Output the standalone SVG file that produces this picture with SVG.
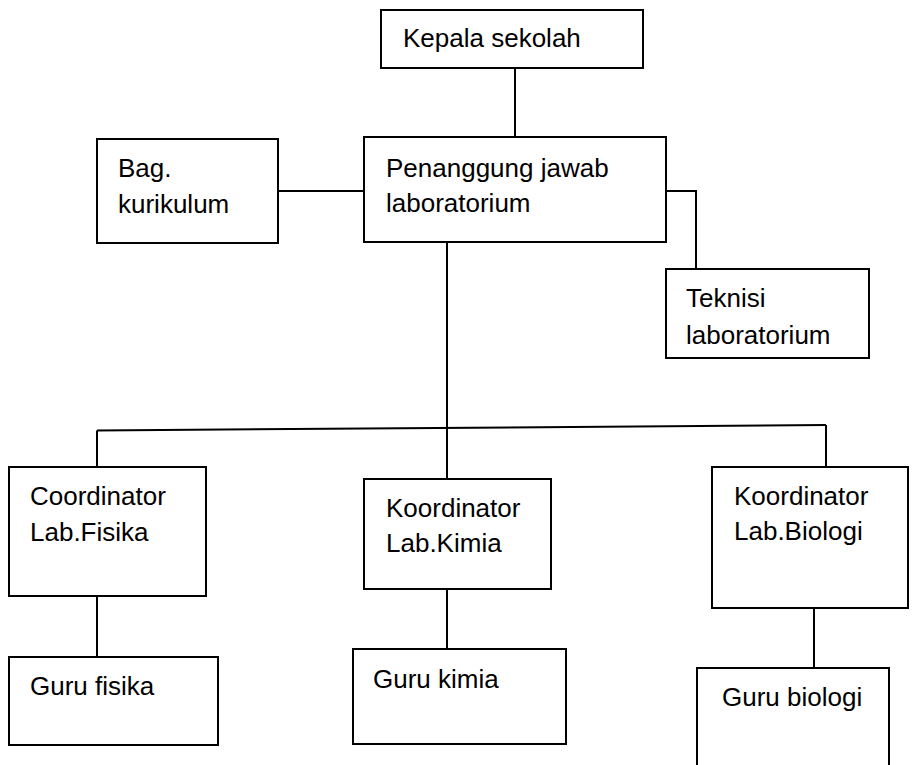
<svg xmlns="http://www.w3.org/2000/svg" width="913" height="765" viewBox="0 0 913 765">
<style>
.box{fill:#fff;stroke:#000;stroke-width:2}
.ln{fill:none;stroke:#000;stroke-width:2}
text{font-family:"Liberation Sans",Arial,sans-serif;font-size:26px;fill:#000}
</style>
<rect width="913" height="765" fill="#fff"/>
<g id="connectors">
<line class="ln" x1="515" y1="68" x2="515" y2="137"/>
<line class="ln" x1="278" y1="191" x2="364" y2="191"/>
<polyline class="ln" points="666,191 696,191 696,269"/>
<line class="ln" x1="447" y1="242" x2="447" y2="479"/>
<line class="ln" x1="97" y1="430.5" x2="826" y2="425"/>
<line class="ln" x1="97" y1="430.5" x2="97" y2="467"/>
<line class="ln" x1="826" y1="425" x2="826" y2="467"/>
<line class="ln" x1="97" y1="596" x2="97" y2="657"/>
<line class="ln" x1="447" y1="589" x2="447" y2="649"/>
<line class="ln" x1="814" y1="608" x2="814" y2="668"/>
</g>
<g id="kepala">
<rect class="box" x="381" y="10" width="262" height="58"/>
<text x="403" y="47">Kepala sekolah</text>
</g>
<g id="penanggung">
<rect class="box" x="364" y="137" width="302" height="105"/>
<text x="386" y="177">Penanggung jawab</text>
<text x="386" y="212">laboratorium</text>
</g>
<g id="bag">
<rect class="box" x="97" y="139" width="181" height="104"/>
<text x="118" y="177">Bag.</text>
<text x="118" y="213">kurikulum</text>
</g>
<g id="teknisi">
<rect class="box" x="666" y="269" width="203" height="89"/>
<text x="686" y="307">Teknisi</text>
<text x="686" y="344">laboratorium</text>
</g>
<g id="koord-fisika">
<rect class="box" x="9" y="467" width="197" height="129"/>
<text x="30" y="505">Coordinator</text>
<text x="30" y="541">Lab.Fisika</text>
</g>
<g id="koord-kimia">
<rect class="box" x="364" y="479" width="187" height="110"/>
<text x="386" y="517">Koordinator</text>
<text x="386" y="552">Lab.Kimia</text>
</g>
<g id="koord-biologi">
<rect class="box" x="712" y="467" width="196" height="141"/>
<text x="734" y="505">Koordinator</text>
<text x="734" y="540">Lab.Biologi</text>
</g>
<g id="guru-fisika">
<rect class="box" x="9" y="657" width="209" height="88"/>
<text x="30" y="695">Guru fisika</text>
</g>
<g id="guru-kimia">
<rect class="box" x="353" y="649" width="213" height="95"/>
<text x="373" y="688">Guru kimia</text>
</g>
<g id="guru-biologi">
<rect class="box" x="697" y="668" width="192" height="110"/>
<text x="722" y="706">Guru biologi</text>
</g>
</svg>
